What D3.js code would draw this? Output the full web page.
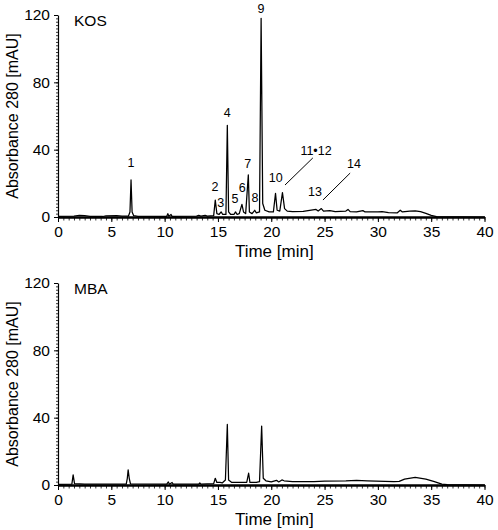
<!DOCTYPE html>
<html><head><meta charset="utf-8">
<script src="https://cdn.jsdelivr.net/npm/d3@7"></script>
<style>body{margin:0;background:#fff}svg{display:block;font-family:"Liberation Sans",Arial,sans-serif}</style>
</head><body><svg id="c" width="498" height="530"></svg>
<script>
// ---- data ----
const xTicks = [0, 5, 10, 15, 20, 25, 30, 35, 40];
const yTicks = [0, 40, 80, 120];
const panelNames = ["KOS", "MBA"];

const kosTime = [0,1.5,2.0,2.5,3.0,4.2,4.5,5.5,6.0,6.6,6.75,6.85,6.95,7.1,7.5,10.2,10.3,10.4,10.6,10.7,13.0,13.2,13.4,13.8,14.0,14.6,14.75,14.9,15.1,15.3,15.45,15.75,15.88,16.0,16.2,16.5,16.65,16.8,17.0,17.25,17.4,17.6,17.85,17.95,18.2,18.45,18.6,18.9,19.05,19.2,19.4,19.8,20.2,20.4,20.55,20.8,21.05,21.25,21.5,22.0,23.0,24.2,24.4,24.7,24.9,25.5,26.0,27.0,27.2,27.4,28.0,28.6,28.8,30.0,30.4,31.0,31.8,32.1,32.3,33.0,33.5,34.0,34.5,35.0,35.5,40];
const kosAbs  = [0.3,0.5,1.0,0.8,0.4,0.3,0.6,0.8,0.5,0.5,3,22,3,0.8,0.4,0.4,2,0.5,1.5,0.4,0.5,1,0.5,1,0.5,0.8,10,2,1.5,3,1.5,1.5,54.5,3,1.5,1.5,3,1.5,2,7.5,3,2,25,3,2,4,2.5,3,118,8,4,3,3,14,4,3.5,14.5,5,3.5,3.2,3.3,4.5,3.5,5,3.5,3.8,3.2,3.5,4.5,3.2,3,3.8,3,3,3.2,2.6,2.4,4,3,3.5,3.6,3.2,2.2,1,0.2,0];

const mbaTime = [0,1.3,1.42,1.55,2.5,6.4,6.5,6.58,6.68,6.8,10.2,10.35,10.45,10.7,10.8,13.2,13.3,13.4,14.6,14.75,14.9,15.2,15.4,15.7,15.88,16.0,16.3,17.0,17.7,17.88,18.0,18.6,18.9,19.1,19.25,19.5,20.0,20.5,20.7,21.0,21.2,22.0,24.0,25.0,27.0,28.0,29.0,31.5,32.0,32.5,33.5,34.5,35.3,36.0,36.5,40];
const mbaAbs  = [0.3,0.5,6,0.8,0.5,0.5,4,9,4,0.6,0.5,1.8,0.5,1.5,0.5,0.5,1.2,0.5,0.8,4,1.5,1.5,1.2,3,36,3,1.5,1.5,1.5,7,1.5,1.5,2,35,4,2.5,1.8,2.8,1.8,3,2.5,2,2,2.3,2.5,2.8,2.5,2,2.2,3.5,4.5,3.5,2,0.5,0.2,0];

// peak labels for KOS panel (position in data units)
const peakText = ["1","2","3","4","5","6","7","8","9","10","11\u202212","13","14"];
const peakTime = [6.85,14.72,15.25,15.88,16.6,17.28,17.79,18.48,19.04,20.42,24.2,24.1,27.76];
const peakAbs  = [29.7,15.4,5.9,59.6,8.2,15.1,29,8.8,121,20.6,36.8,12.6,28.9];
// leader lines [t1, v1, t2, v2]
const leaderT1 = [21.29, 24.85];
const leaderV1 = [19.0, 10.1];
const leaderT2 = [23.9, 27.4];
const leaderV2 = [35.1, 26.1];

// ---- drawing ----
const svg = d3.select("#c");
const panels = [
  {name: panelNames[0], time: kosTime, abs: kosAbs, top: 15, bottom: 217, labels: true},
  {name: panelNames[1], time: mbaTime, abs: mbaAbs, top: 283, bottom: 485, labels: false}
];
const x = d3.scaleLinear().domain([0, 40]).range([58, 484.5]);
const FONT = "Liberation Sans, Arial, sans-serif";

panels.forEach(p => {
  const y = d3.scaleLinear().domain([0, 120]).range([p.bottom, p.top]);
  const g = svg.append("g");

  // y axis minor ticks
  g.append("g").attr("transform", `translate(${x(0)},0)`)
    .call(d3.axisLeft(y).tickValues(d3.range(0, 121, 2)).tickSize(2).tickFormat(""))
    .call(a => a.select(".domain").remove())
    .call(a => a.selectAll("line").attr("stroke", "#000").attr("stroke-width", 0.8));
  // y axis major
  g.append("g").attr("transform", `translate(${x(0)},0)`)
    .call(d3.axisLeft(y).tickValues(yTicks).tickSize(4).tickSizeOuter(0).tickPadding(4))
    .call(a => a.select(".domain").attr("stroke", "#000").attr("stroke-width", 1.2))
    .call(a => a.selectAll("text").attr("font-size", 15.5).attr("fill", "#000").attr("font-family", FONT));

  // x axis minor
  g.append("g").attr("transform", `translate(0,${p.bottom})`)
    .call(d3.axisBottom(x).tickValues(d3.range(0, 40.01, 0.5)).tickSize(3.5).tickFormat(""))
    .call(a => a.select(".domain").remove())
    .call(a => a.selectAll("line").attr("stroke", "#000").attr("stroke-width", 0.8));
  // x axis major
  g.append("g").attr("transform", `translate(0,${p.bottom})`)
    .call(d3.axisBottom(x).tickValues(xTicks).tickSize(5).tickSizeOuter(0).tickPadding(3.5))
    .call(a => a.select(".domain").attr("stroke", "#000").attr("stroke-width", 2.5))
    .call(a => a.selectAll("line").attr("stroke", "#000").attr("stroke-width", 1))
    .call(a => a.selectAll("text").attr("font-size", 15.5).attr("fill", "#000").attr("font-family", FONT));

  // trace
  const line = d3.line().x((d, i) => x(p.time[i])).y((d, i) => y(p.abs[i]));
  g.append("path").datum(p.abs).attr("d", line)
    .attr("fill", "none").attr("stroke", "#000").attr("stroke-width", 1.25).attr("stroke-linejoin", "round");

  // titles
  g.append("text").attr("x", (x(0) + x(40)) / 2 + 3).attr("y", p.bottom + 40)
    .attr("text-anchor", "middle").attr("font-size", 17).attr("fill", "#000").text("Time [min]");
  g.append("text").attr("transform", `translate(18,${(p.top + p.bottom) / 2}) rotate(-90)`)
    .attr("text-anchor", "middle").attr("font-size", 16).attr("fill", "#000").text("Absorbance 280 [mAU]");
  g.append("text").attr("x", 74).attr("y", p.top + 11).attr("font-size", 15.5).attr("fill", "#000").text(p.name);

  if (p.labels) {
    g.selectAll("text.pl").data(peakText).join("text").attr("class", "pl")
      .attr("x", (d, i) => x(peakTime[i])).attr("y", (d, i) => y(peakAbs[i]))
      .attr("text-anchor", "middle").attr("font-size", 12.5).attr("fill", "#000").text(d => d);
    g.selectAll("line.ll").data(leaderT1).join("line").attr("class", "ll")
      .attr("x1", (d, i) => x(leaderT1[i])).attr("y1", (d, i) => y(leaderV1[i]))
      .attr("x2", (d, i) => x(leaderT2[i])).attr("y2", (d, i) => y(leaderV2[i]))
      .attr("stroke", "#000").attr("stroke-width", 1);
  }
});
</script></body></html>
